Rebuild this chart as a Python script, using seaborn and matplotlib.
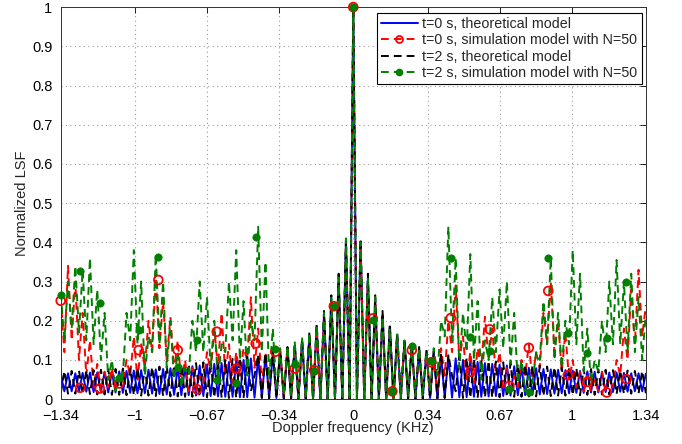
import numpy as np
import pandas as pd
import matplotlib
matplotlib.use("Agg")
import matplotlib.pyplot as plt
from matplotlib.lines import Line2D
import seaborn as sns

# ---------------- data ----------------
freq_min, freq_max, n_samples = -1.34, 1.34, 161
doppler_khz = np.linspace(freq_min, freq_max, n_samples)

t0_theory = [
    .065, .020, .066, .020, .066, .019, .067, .019, .068, .018, .068, .018, .069, .017, .070, .017,
    .071, .016, .072, .016, .073, .015, .074, .015, .075, .014, .076, .013, .077, .012, .079, .011,
    .080, .010, .082, .010, .084, .009, .086, .008, .088, .008, .090, .007, .092, .006, .095, .006,
    .098, .005, .100, .005, .104, .004, .108, .004, .112, .003, .117, .003, .122, .002, .128, .002,
    .137, .002, .148, .001, .163, .001, .185, .000, .215, .000, .255, .000, .310, .000, .400, .000,
    1.00,
    .000, .400, .000, .310, .000, .255, .000, .215, .000, .185, .001, .163, .001, .148, .002, .137,
    .002, .128, .002, .122, .003, .117, .003, .112, .004, .108, .004, .104, .005, .100, .005, .098,
    .006, .095, .006, .092, .007, .090, .008, .088, .008, .086, .009, .084, .010, .082, .010, .080,
    .011, .079, .012, .077, .013, .076, .014, .075, .015, .074, .015, .073, .016, .072, .016, .071,
    .017, .070, .017, .069, .018, .068, .018, .068, .019, .067, .019, .066, .020, .066, .020, .065,
]

t2_theory = [
    .015, .072, .014, .072, .014, .073, .013, .073, .013, .074, .012, .075, .012, .076, .011, .077,
    .011, .078, .010, .079, .010, .080, .009, .081, .009, .082, .008, .083, .008, .085, .007, .086,
    .007, .088, .006, .090, .006, .092, .005, .094, .005, .096, .004, .098, .004, .100, .003, .103,
    .003, .106, .003, .109, .020, .060, .114, .003, .118, .002, .122, .002, .127, .002, .133, .001,
    .142, .001, .154, .001, .170, .000, .193, .000, .225, .000, .265, .000, .320, .000, .410, .000,
    1.00,
    .000, .410, .000, .320, .000, .265, .000, .225, .000, .193, .000, .170, .001, .154, .001, .142,
    .001, .133, .002, .127, .002, .122, .002, .118, .003, .114, .060, .020, .109, .003, .106, .003,
    .103, .003, .100, .004, .098, .004, .096, .005, .094, .005, .092, .006, .090, .006, .088, .007,
    .086, .007, .085, .008, .083, .008, .082, .009, .081, .009, .080, .010, .079, .010, .078, .011,
    .077, .011, .076, .012, .075, .012, .074, .013, .073, .013, .073, .014, .072, .014, .072, .015,
]

t0_sim = [
    .26, .12, .34, .15, .30, .10, .22, .06, .15, .03, .09, .02, .07, .03, .08, .02,
    .06, .04, .10, .06, .16, .05, .14, .08, .20, .12, .31, .13, .25, .10, .21, .07,
    .15, .04, .10, .02, .08, .02, .06, .04, .12, .07, .18, .08, .22, .06, .14, .04,
    .12, .06, .13, .10, .26, .08, .18, .04, .12, .02, .12, .01, .125, .01, .13, .005,
    .135, .003, .145, .002, .16, .001, .18, .0, .21, .0, .25, .0, .30, .0, .40, .0,
    1.00,
    .0, .40, .0, .30, .0, .25, .0, .21, .001, .18, .002, .16, .003, .145, .005, .135,
    .008, .125, .01, .12, .01, .11, .02, .13, .06, .20, .12, .29, .10, .16, .05, .12,
    .04, .13, .08, .21, .10, .18, .06, .12, .03, .08, .02, .06, .03, .10, .06, .14,
    .05, .12, .08, .22, .14, .30, .12, .20, .07, .17, .05, .10, .03, .07, .02, .06,
    .02, .05, .02, .07, .02, .05, .03, .10, .06, .18, .10, .28, .14, .33, .16, .24,
]

t2_sim = [
    .27, .15, .30, .18, .34, .17, .33, .15, .36, .14, .28, .10, .22, .05, .10, .02,
    .07, .06, .22, .15, .38, .14, .30, .06, .16, .12, .37, .14, .30, .08, .20, .05,
    .12, .03, .08, .06, .20, .12, .30, .12, .26, .08, .20, .05, .14, .12, .30, .15,
    .38, .10, .25, .06, .20, .15, .44, .12, .35, .05, .18, .02, .13, .01, .135, .005,
    .145, .003, .155, .002, .17, .001, .19, .0, .22, .0, .26, .0, .31, .0, .41, .0,
    1.00,
    .0, .40, .0, .31, .0, .26, .0, .21, .001, .18, .002, .165, .003, .15, .005, .14,
    .008, .13, .01, .12, .02, .13, .06, .20, .16, .44, .15, .36, .08, .22, .12, .37,
    .10, .25, .05, .15, .10, .26, .12, .28, .13, .30, .09, .22, .04, .10, .02, .06,
    .04, .12, .10, .25, .14, .36, .10, .22, .08, .20, .14, .38, .14, .32, .07, .18,
    .04, .10, .07, .20, .12, .30, .14, .355, .14, .30, .12, .32, .12, .26, .10, .22,
]

marker_khz = [-1.34, -1.251, -1.161, -1.072, -0.983, -0.893, -0.804, -0.715, -0.625, -0.536,
              -0.447, -0.357, -0.268, -0.179, -0.089, 0.0, 0.089, 0.179, 0.268, 0.357,
              0.447, 0.536, 0.625, 0.715, 0.804, 0.893, 0.983, 1.072, 1.161, 1.251]
t0_sim_markers = [.251, .029, .027, .040, .125, .304, .125, .025, .172, .078,
                  .142, .121, .078, .074, .237, 1.0, .206, .020, .125, .094,
                  .207, .070, .178, .034, .131, .276, .061, .044, .017, .051]
t2_sim_markers = [.266, .327, .245, .053, .176, .362, .083, .151, .048, .040,
                  .413, .127, .090, .072, .237, 1.0, .202, .020, .136, .098,
                  .361, .159, .123, .027, .018, .361, .168, .119, .155, .298]

x_ticks = [-1.34, -1, -0.67, -0.34, 0, 0.34, 0.67, 1, 1.34]
x_tick_labels = ["\u22121.34", "\u22121", "\u22120.67", "\u22120.34", "0", "0.34", "0.67", "1", "1.34"]
y_ticks = [0, 0.1, 0.2, 0.3, 0.4, 0.5, 0.6, 0.7, 0.8, 0.9, 1.0]
y_tick_labels = ["0", "0.1", "0.2", "0.3", "0.4", "0.5", "0.6", "0.7", "0.8", "0.9", "1"]

labels = ["t=0 s, theoretical model",
          "t=0 s, simulation model with N=50",
          "t=2 s, theoretical model",
          "t=2 s, simulation model with N=50"]
colors = ["#0000ff", "#ff0000", "#000000", "#007f00"]

# ---------------- plotting ----------------
sns.set_theme(style="white")
plt.rcParams["font.family"] = ["Liberation Sans", "DejaVu Sans"]

fig = plt.figure(figsize=(6.82, 4.44), dpi=100)
ax = fig.add_axes([0.089, 0.101, 0.858, 0.883])

curves = [t0_theory, t0_sim, t2_theory, t2_sim]
dashed = [False, True, True, True]
for vals, col, dsh in zip(curves, colors, dashed):
    df = pd.DataFrame({"f": doppler_khz, "lsf": vals})
    sns.lineplot(data=df, x="f", y="lsf", color=col, linewidth=1.4,
                 estimator=None, sort=False, ax=ax)
    ln = ax.lines[-1]
    if dsh:
        ln.set_dashes([4.0, 2.6])

mdf = pd.DataFrame({"f": marker_khz, "a": t0_sim_markers, "b": t2_sim_markers})
sns.scatterplot(data=mdf, x="f", y="a", marker="o", s=40, facecolor="none",
                edgecolor=colors[1], linewidth=1.3, ax=ax, clip_on=False, zorder=5)
sns.scatterplot(data=mdf, x="f", y="b", marker="o", s=28, color=colors[3],
                edgecolor=colors[3], linewidth=0.5, ax=ax, clip_on=False, zorder=6)

ax.set_xlim(freq_min, freq_max)
ax.set_ylim(0, 1)
ax.set_xticks(x_ticks)
ax.set_xticklabels(x_tick_labels)
ax.set_yticks(y_ticks)
ax.set_yticklabels(y_tick_labels)
ax.grid(True, linestyle=(0, (1, 3)), color="#9a9a9a", linewidth=0.8)
ax.tick_params(direction="in", top=True, right=True, length=4, width=0.6,
               labelsize=10.5, colors="#000000")
ax.tick_params(axis="x", pad=7)
ax.tick_params(axis="y", pad=6)
for sp in ax.spines.values():
    sp.set_color("#333333")
    sp.set_linewidth(0.7)
ax.set_xlabel("Doppler frequency (KHz)", fontsize=10.5, labelpad=-1)
ax.set_ylabel("Normalized LSF", fontsize=10.5, labelpad=2)

handles = [
    Line2D([], [], color=colors[0], linewidth=1.4),
    Line2D([], [], color=colors[1], linewidth=1.4, dashes=[4.0, 2.6], marker="o",
           markerfacecolor="none", markeredgecolor=colors[1], markersize=5, markeredgewidth=1.3),
    Line2D([], [], color=colors[2], linewidth=1.4, dashes=[4.0, 2.6]),
    Line2D([], [], color=colors[3], linewidth=1.4, dashes=[4.0, 2.6], marker="o",
           markerfacecolor=colors[3], markeredgecolor=colors[3], markersize=4.5),
]
leg = ax.legend(handles, labels, loc="upper right", bbox_to_anchor=(0.993, 0.985),
                borderaxespad=0, fontsize=10.3, frameon=True, fancybox=False,
                framealpha=1, edgecolor="#000000", handlelength=2.6,
                handletextpad=0.3, labelspacing=0.15, borderpad=0.3)
leg.get_frame().set_linewidth(0.8)

fig.savefig("out.png", dpi=100)
